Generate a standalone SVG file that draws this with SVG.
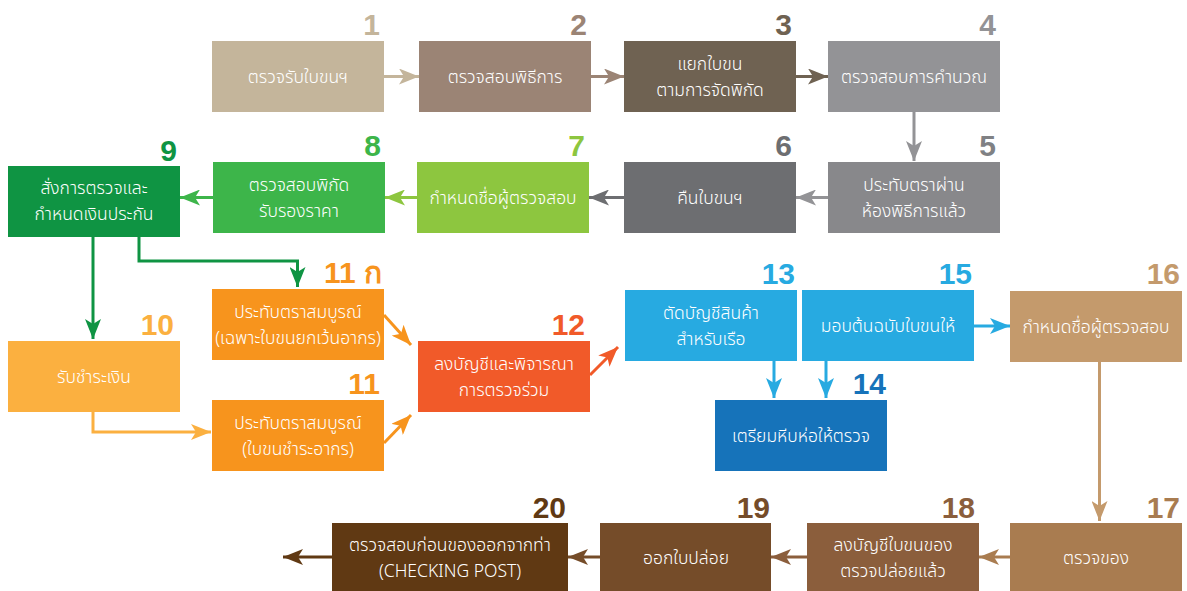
<svg xmlns="http://www.w3.org/2000/svg" width="1187" height="591" viewBox="0 0 1187 591">
<style>
.lb{font-family:"Noto Sans Thai","Noto Sans","DejaVu Sans",sans-serif;font-size:17.5px;font-weight:300;fill:#ffffff;text-anchor:middle}
.nm{font-family:"Liberation Sans",Arial,sans-serif;font-size:30px;font-weight:bold;text-anchor:end}
.c{fill:none;stroke-width:3}
</style>
<defs>
<marker id="m1" viewBox="0 0 20 16" refX="20" refY="8" markerWidth="20" markerHeight="16" markerUnits="userSpaceOnUse" orient="auto"><path d="M0,0 L20,8 L0,16 L5,8 Z" fill="#c4b59b"/></marker>
<marker id="m2" viewBox="0 0 20 16" refX="20" refY="8" markerWidth="20" markerHeight="16" markerUnits="userSpaceOnUse" orient="auto"><path d="M0,0 L20,8 L0,16 L5,8 Z" fill="#9b8475"/></marker>
<marker id="m3" viewBox="0 0 20 16" refX="20" refY="8" markerWidth="20" markerHeight="16" markerUnits="userSpaceOnUse" orient="auto"><path d="M0,0 L20,8 L0,16 L5,8 Z" fill="#6f6252"/></marker>
<marker id="m4" viewBox="0 0 20 16" refX="20" refY="8" markerWidth="20" markerHeight="16" markerUnits="userSpaceOnUse" orient="auto"><path d="M0,0 L20,8 L0,16 L5,8 Z" fill="#939396"/></marker>
<marker id="m6" viewBox="0 0 20 16" refX="20" refY="8" markerWidth="20" markerHeight="16" markerUnits="userSpaceOnUse" orient="auto"><path d="M0,0 L20,8 L0,16 L5,8 Z" fill="#6d6e71"/></marker>
<marker id="m7" viewBox="0 0 20 16" refX="20" refY="8" markerWidth="20" markerHeight="16" markerUnits="userSpaceOnUse" orient="auto"><path d="M0,0 L20,8 L0,16 L5,8 Z" fill="#8dc63f"/></marker>
<marker id="m8" viewBox="0 0 20 16" refX="20" refY="8" markerWidth="20" markerHeight="16" markerUnits="userSpaceOnUse" orient="auto"><path d="M0,0 L20,8 L0,16 L5,8 Z" fill="#3db54a"/></marker>
<marker id="m9" viewBox="0 0 20 16" refX="20" refY="8" markerWidth="20" markerHeight="16" markerUnits="userSpaceOnUse" orient="auto"><path d="M0,0 L20,8 L0,16 L5,8 Z" fill="#0f9443"/></marker>
<marker id="m10" viewBox="0 0 20 16" refX="20" refY="8" markerWidth="20" markerHeight="16" markerUnits="userSpaceOnUse" orient="auto"><path d="M0,0 L20,8 L0,16 L5,8 Z" fill="#fbb040"/></marker>
<marker id="m11" viewBox="0 0 20 16" refX="20" refY="8" markerWidth="20" markerHeight="16" markerUnits="userSpaceOnUse" orient="auto"><path d="M0,0 L20,8 L0,16 L5,8 Z" fill="#f7941d"/></marker>
<marker id="m12" viewBox="0 0 20 16" refX="20" refY="8" markerWidth="20" markerHeight="16" markerUnits="userSpaceOnUse" orient="auto"><path d="M0,0 L20,8 L0,16 L5,8 Z" fill="#f15a29"/></marker>
<marker id="m13" viewBox="0 0 20 16" refX="20" refY="8" markerWidth="20" markerHeight="16" markerUnits="userSpaceOnUse" orient="auto"><path d="M0,0 L20,8 L0,16 L5,8 Z" fill="#27aae1"/></marker>
<marker id="m16" viewBox="0 0 20 16" refX="20" refY="8" markerWidth="20" markerHeight="16" markerUnits="userSpaceOnUse" orient="auto"><path d="M0,0 L20,8 L0,16 L5,8 Z" fill="#c49a6c"/></marker>
<marker id="m17" viewBox="0 0 20 16" refX="20" refY="8" markerWidth="20" markerHeight="16" markerUnits="userSpaceOnUse" orient="auto"><path d="M0,0 L20,8 L0,16 L5,8 Z" fill="#a97c50"/></marker>
<marker id="m18" viewBox="0 0 20 16" refX="20" refY="8" markerWidth="20" markerHeight="16" markerUnits="userSpaceOnUse" orient="auto"><path d="M0,0 L20,8 L0,16 L5,8 Z" fill="#8b5e3c"/></marker>
<marker id="m19" viewBox="0 0 20 16" refX="20" refY="8" markerWidth="20" markerHeight="16" markerUnits="userSpaceOnUse" orient="auto"><path d="M0,0 L20,8 L0,16 L5,8 Z" fill="#754c29"/></marker>
<marker id="m20" viewBox="0 0 20 16" refX="20" refY="8" markerWidth="20" markerHeight="16" markerUnits="userSpaceOnUse" orient="auto"><path d="M0,0 L20,8 L0,16 L5,8 Z" fill="#603913"/></marker>
</defs>
<rect width="1187" height="591" fill="#ffffff"/>
<g id="connectors">
<path class="c" stroke="#c4b59b" marker-end="url(#m1)" d="M384,76.5 H419"/>
<path class="c" stroke="#9b8475" marker-end="url(#m2)" d="M591,76.5 H624"/>
<path class="c" stroke="#6f6252" marker-end="url(#m3)" d="M796,76.5 H828"/>
<path class="c" stroke="#939396" marker-end="url(#m4)" d="M914,112 V161"/>
<path class="c" stroke="#939396" marker-end="url(#m4)" d="M828,197.5 H796"/>
<path class="c" stroke="#6d6e71" marker-end="url(#m6)" d="M624,197.5 H589"/>
<path class="c" stroke="#8dc63f" marker-end="url(#m7)" d="M417,197.5 H385"/>
<path class="c" stroke="#3db54a" marker-end="url(#m8)" d="M213,197.5 H180"/>
<path class="c" stroke="#0f9443" marker-end="url(#m9)" d="M93,237 V339"/>
<path class="c" stroke="#0f9443" marker-end="url(#m9)" d="M139,237 V261 H297.5 V287"/>
<path class="c" stroke="#fbb040" marker-end="url(#m10)" d="M93,412 V432 H211"/>
<path class="c" stroke="#f7941d" marker-end="url(#m11)" d="M384,315 L411,345"/>
<path class="c" stroke="#f7941d" marker-end="url(#m11)" d="M384,443 L411,415"/>
<path class="c" stroke="#f15a29" marker-end="url(#m12)" d="M590,375 L618,347"/>
<path class="c" stroke="#27aae1" marker-end="url(#m13)" d="M774,361 V398"/>
<path class="c" stroke="#27aae1" marker-end="url(#m13)" d="M826,361 V398"/>
<path class="c" stroke="#27aae1" marker-end="url(#m13)" d="M974,326 H1010"/>
<path class="c" stroke="#c49a6c" marker-end="url(#m16)" d="M1099.5,362 V521"/>
<path class="c" stroke="#a97c50" marker-end="url(#m17)" d="M1010,557 H979"/>
<path class="c" stroke="#8b5e3c" marker-end="url(#m18)" d="M807,557 H771"/>
<path class="c" stroke="#754c29" marker-end="url(#m19)" d="M600,557 H568"/>
<path class="c" stroke="#603913" marker-end="url(#m20)" d="M332,557 H283"/>
</g>
<g id="n1"><rect x="212" y="41" width="172" height="71" fill="#c4b59b"/><text class="nm" x="380" y="35" fill="#c4b59b">1</text><text class="lb" x="298" y="83">ตรวจรับใบขนฯ</text></g>
<g id="n2"><rect x="419" y="41" width="172" height="71" fill="#9b8475"/><text class="nm" x="587" y="35" fill="#9b8475">2</text><text class="lb" x="505" y="83">ตรวจสอบพิธีการ</text></g>
<g id="n3"><rect x="624" y="41" width="172" height="71" fill="#6f6252"/><text class="nm" x="792" y="35" fill="#6f6252">3</text><text class="lb" x="710" y="70">แยกใบขน</text><text class="lb" x="710" y="96">ตามการจัดพิกัด</text></g>
<g id="n4"><rect x="828" y="41" width="172" height="71" fill="#939396"/><text class="nm" x="996" y="35" fill="#939396">4</text><text class="lb" x="914" y="83">ตรวจสอบการคำนวณ</text></g>
<g id="n5"><rect x="828" y="162" width="172" height="71" fill="#88888b"/><text class="nm" x="996" y="156" fill="#808184">5</text><text class="lb" x="914" y="191">ประทับตราผ่าน</text><text class="lb" x="914" y="217">ห้องพิธีการแล้ว</text></g>
<g id="n6"><rect x="624" y="162" width="172" height="71" fill="#6d6e71"/><text class="nm" x="792" y="156" fill="#6d6e71">6</text><text class="lb" x="710" y="204">คืนใบขนฯ</text></g>
<g id="n7"><rect x="417" y="162" width="172" height="71" fill="#8dc63f"/><text class="nm" x="585" y="156" fill="#8dc63f">7</text><text class="lb" x="503" y="204">กำหนดชื่อผู้ตรวจสอบ</text></g>
<g id="n8"><rect x="213" y="162" width="172" height="71" fill="#3db54a"/><text class="nm" x="381" y="156" fill="#3db54a">8</text><text class="lb" x="299" y="191">ตรวจสอบพิกัด</text><text class="lb" x="299" y="217">รับรองราคา</text></g>
<g id="n9"><rect x="8" y="166" width="172" height="71" fill="#0f9443"/><text class="nm" x="177" y="161" fill="#0f9443">9</text><text class="lb" x="94" y="194">สั่งการตรวจและ</text><text class="lb" x="94" y="220">กำหนดเงินประกัน</text></g>
<g id="n10"><rect x="8" y="341" width="172" height="71" fill="#fbb040"/><text class="nm" x="174" y="335" fill="#fbb040">10</text><text class="lb" x="94" y="383">รับชำระเงิน</text></g>
<g id="n11a"><rect x="212" y="289" width="172" height="71" fill="#f7941d"/><text class="nm" x="382" y="283" fill="#f7941d">11 ก</text><text class="lb" x="298" y="318">ประทับตราสมบูรณ์</text><text class="lb" x="298" y="344">(เฉพาะใบขนยกเว้นอากร)</text></g>
<g id="n11"><rect x="212" y="400" width="172" height="71" fill="#f7941d"/><text class="nm" x="380" y="394" fill="#f7941d">11</text><text class="lb" x="298" y="429">ประทับตราสมบูรณ์</text><text class="lb" x="298" y="455">(ใบขนชำระอากร)</text></g>
<g id="n12"><rect x="418" y="341" width="172" height="71" fill="#f15a29"/><text class="nm" x="585" y="335" fill="#f15a29">12</text><text class="lb" x="504" y="370">ลงบัญชีและพิจารณา</text><text class="lb" x="504" y="396">การตรวจร่วม</text></g>
<g id="n13"><rect x="625" y="290" width="172" height="71" fill="#27aae1"/><text class="nm" x="795" y="284" fill="#27aae1">13</text><text class="lb" x="711" y="319">ตัดบัญชีสินค้า</text><text class="lb" x="711" y="345">สำหรับเรือ</text></g>
<g id="n15"><rect x="802" y="290" width="172" height="71" fill="#27aae1"/><text class="nm" x="972" y="284" fill="#27aae1">15</text><text class="lb" x="888" y="332">มอบต้นฉบับใบขนให้</text></g>
<g id="n14"><rect x="715" y="400" width="172" height="71" fill="#1673ba"/><text class="nm" x="886" y="394" fill="#1673ba">14</text><text class="lb" x="801" y="442">เตรียมหีบห่อให้ตรวจ</text></g>
<g id="n16"><rect x="1010" y="291" width="172" height="71" fill="#c49a6c"/><text class="nm" x="1180" y="284" fill="#c49a6c">16</text><text class="lb" x="1096" y="333">กำหนดชื่อผู้ตรวจสอบ</text></g>
<g id="n17"><rect x="1010" y="523" width="172" height="71" fill="#a97c50"/><text class="nm" x="1180" y="518" fill="#a97c50">17</text><text class="lb" x="1096" y="564">ตรวจของ</text></g>
<g id="n18"><rect x="807" y="523" width="172" height="71" fill="#8b5e3c"/><text class="nm" x="975" y="518" fill="#8b5e3c">18</text><text class="lb" x="893" y="551">ลงบัญชีใบขนของ</text><text class="lb" x="893" y="577">ตรวจปล่อยแล้ว</text></g>
<g id="n19"><rect x="600" y="523" width="171" height="71" fill="#754c29"/><text class="nm" x="770" y="518" fill="#754c29">19</text><text class="lb" x="686" y="564">ออกใบปล่อย</text></g>
<g id="n20"><rect x="332" y="523" width="236" height="71" fill="#603913"/><text class="nm" x="566" y="518" fill="#603913">20</text><text class="lb" x="450" y="551">ตรวจสอบก่อนของออกจากท่า</text><text class="lb" x="450" y="577">(CHECKING POST)</text></g>
</svg>
